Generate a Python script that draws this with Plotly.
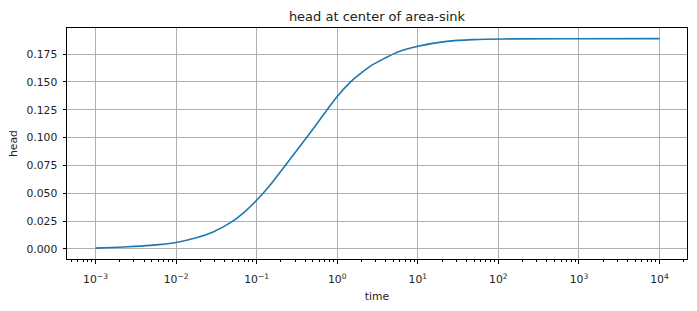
import plotly.graph_objects as go

log_time = [-3.0, -2.65, -2.32, -2.0, -1.75, -1.54, -1.33, -1.17, -1.0, -0.85,
            -0.65, -0.38, -0.13, 0.0, 0.166, 0.28, 0.407, 0.53, 0.739, 1.0,
            1.36, 1.69, 2.15, 3.0, 4.0]
head = [0.0008, 0.0018, 0.0032, 0.0058, 0.0100, 0.0153, 0.0234, 0.0320, 0.0438, 0.0558,
        0.0745, 0.1000, 0.1245, 0.1370, 0.1500, 0.1570, 0.1640, 0.1690, 0.1765, 0.1820,
        0.1864, 0.1880, 0.1886, 0.1888, 0.1889]
time = [10 ** v for v in log_time]

xtick_vals = [1e-3, 1e-2, 1e-1, 1, 10, 100, 1e3, 1e4]
xtick_text = ["10<sup>−3</sup>", "10<sup>−2</sup>", "10<sup>−1</sup>", "10<sup>0</sup>",
              "10<sup>1</sup>", "10<sup>2</sup>", "10<sup>3</sup>", "10<sup>4</sup>"]
minor_vals = [m * 10 ** k for k in range(-4, 5) for m in range(2, 10)]
ytick_vals = [0.0, 0.025, 0.05, 0.075, 0.1, 0.125, 0.15, 0.175]

fig = go.Figure()
fig.add_trace(go.Scatter(x=time, y=head, mode="lines",
                         line=dict(color="#1f77b4", width=1.6, shape="spline", smoothing=1.0)))

font = "DejaVu Sans"
fig.update_layout(
    width=697, height=311,
    margin=dict(l=67, r=10, t=28, b=52),
    paper_bgcolor="white", plot_bgcolor="white",
    showlegend=False,
    font=dict(family=font, size=10.8, color="#222"),
    title=dict(text="head at center of area-sink", x=(67 + 687) / 2 / 697, xanchor="center",
               y=1 - 16 / 311, yanchor="middle", font=dict(family=font, size=13, color="#222")),
    xaxis=dict(type="log", range=[-3.354, 4.341], tickmode="array",
               tickvals=xtick_vals, ticktext=xtick_text,
               showgrid=True, gridcolor="#b0b0b0", gridwidth=1,
               showline=True, linecolor="black", linewidth=1, mirror=True,
               ticks="outside", ticklen=3.5, tickcolor="black", zeroline=False,
               ticklabelstandoff=7,
               minor=dict(tickmode="array", tickvals=minor_vals, ticks="outside",
                          ticklen=2, tickcolor="black", showgrid=False),
               title=dict(text="time", font=dict(family=font, size=10.8), standoff=6)),
    yaxis=dict(range=[-0.009, 0.1984], tickvals=ytick_vals, tickformat=".3f",
               showgrid=True, gridcolor="#b0b0b0", gridwidth=1,
               showline=True, linecolor="black", linewidth=1, mirror=True,
               ticks="outside", ticklen=3.5, tickcolor="black", zeroline=False,
               ticklabelstandoff=3,
               title=dict(text="head", font=dict(family=font, size=10.8), standoff=6)),
)
fig.write_html("out.html")
